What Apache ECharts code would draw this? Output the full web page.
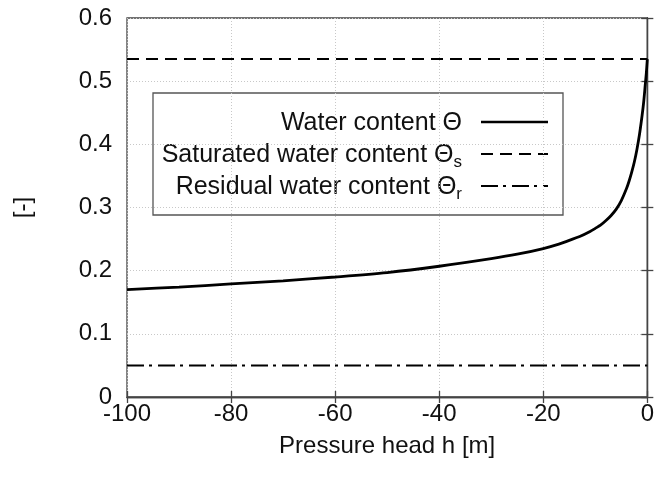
<!DOCTYPE html>
<html><head><meta charset="utf-8">
<script src="https://cdn.jsdelivr.net/npm/echarts@6/dist/echarts.min.js"></script>
<style>html,body{margin:0;padding:0;background:#fff}#c{width:657px;height:477px}</style>
</head><body><div id="c"></div>
<script>
// Pressure head h [m]
const headValues = [-100,-90,-80,-70,-60,-50,-40,-30,-25,-20,-17,-15,-13,-11,-10,-9,-8,-7,-6,-5,-4,-3.5,-3,-2.5,-2,-1.5,-1,-0.7,-0.4,-0.2,0];
// Water content Θ [-]
const thetaValues = [0.170,0.174,0.179,0.184,0.190,0.197,0.207,0.219,0.226,0.235,0.242,0.248,0.254,0.262,0.267,0.272,0.279,0.287,0.297,0.311,0.330,0.342,0.356,0.372,0.392,0.416,0.446,0.467,0.494,0.512,0.535];
const thetaS = 0.535;
const thetaR = 0.05;
const xRange = [-100, 0];
const yRange = [0, 0.6];
const legendLabels = ['Water content Θ', 'Saturated water content Θ{sub|s}', 'Residual water content Θ{sub|r}'];

const FONT = 'Liberation Sans, Arial, Helvetica, sans-serif';
const FS = 24;
const LFS = 25;
const chart = echarts.init(document.getElementById('c'));
const curve = headValues.map((h, i) => [h, thetaValues[i]]);
const satLine = xRange.map(h => [h, thetaS]);
const resLine = xRange.map(h => [h, thetaR]);

const gridLine = {show: true, lineStyle: {color: '#c8c8c8', type: [1, 2], width: 1}};
const axisLineStyle = {show: true, lineStyle: {color: '#444', width: 1.3}};
const tickStyle = {show: true, inside: true, length: 6, lineStyle: {color: '#444', width: 1.3}};

const legendX = 153, legendY = 93, legendW = 410, legendH = 122;
const rowY = [122, 154, 186];
const textRight = 462, sampleL = 481, sampleR = 548;
const sampleDash = [null, [12, 7], [17, 5, 3, 6]];

const legendChildren = [{
  type: 'rect', shape: {x: legendX, y: legendY, width: legendW, height: legendH},
  style: {fill: '#fff', stroke: '#555', lineWidth: 1.3}
}];
legendLabels.forEach((t, i) => {
  legendChildren.push({
    type: 'text', x: textRight, y: rowY[i] + 1,
    style: {
      text: t, align: 'right', verticalAlign: 'middle',
      font: LFS + 'px ' + FONT, fill: '#111',
      rich: {sub: {fontSize: 17, fontFamily: FONT, fill: '#111', padding: [14, 0, 0, 0]}}
    }
  });
  legendChildren.push({
    type: 'line', shape: {x1: sampleL, y1: rowY[i], x2: sampleR, y2: rowY[i]},
    style: {stroke: '#000', lineWidth: i === 0 ? 2.5 : 2, lineDash: sampleDash[i]}
  });
});

chart.setOption({
  animation: false,
  backgroundColor: '#fff',
  grid: {left: 127, right: 6, top: 18, bottom: 80, show: true, borderColor: '#444', borderWidth: 1.3, backgroundColor: 'transparent'},
  xAxis: [{
    type: 'value', min: xRange[0], max: xRange[1], interval: 20,
    name: 'Pressure head h [m]', nameLocation: 'middle', nameGap: 37,
    nameTextStyle: {fontSize: FS, fontFamily: FONT, color: '#111'},
    axisLine: axisLineStyle, axisTick: tickStyle, splitLine: gridLine,
    axisLabel: {fontSize: FS, fontFamily: FONT, color: '#111', margin: 5}
  }, {
    type: 'value', position: 'top', min: xRange[0], max: xRange[1], interval: 20,
    axisLine: axisLineStyle, axisTick: tickStyle, splitLine: {show: false}, axisLabel: {show: false}
  }],
  yAxis: [{
    type: 'value', min: yRange[0], max: yRange[1], interval: 0.1,
    name: '[-]', nameLocation: 'middle', nameGap: 92, nameRotate: 90,
    nameTextStyle: {fontSize: FS, fontFamily: FONT, color: '#111'},
    axisLine: axisLineStyle, axisTick: tickStyle, splitLine: gridLine,
    axisLabel: {fontSize: FS, fontFamily: FONT, color: '#111', margin: 15,
      formatter: v => v === 0 ? '0' : v.toFixed(1)}
  }, {
    type: 'value', position: 'right', min: yRange[0], max: yRange[1], interval: 0.1,
    axisLine: axisLineStyle, axisTick: tickStyle, splitLine: {show: false}, axisLabel: {show: false}
  }],
  series: [
    {type: 'line', data: curve, smooth: 0.3, showSymbol: false, lineStyle: {color: '#000', width: 2.8}, z: 5},
    {type: 'line', data: satLine, showSymbol: false, lineStyle: {color: '#000', width: 2, type: [12, 7]}, z: 4},
    {type: 'line', data: resLine, showSymbol: false, lineStyle: {color: '#000', width: 2, type: [17, 5, 3, 6]}, z: 4}
  ],
  graphic: [{type: 'group', z: 100, children: legendChildren}]
});
</script></body></html>
